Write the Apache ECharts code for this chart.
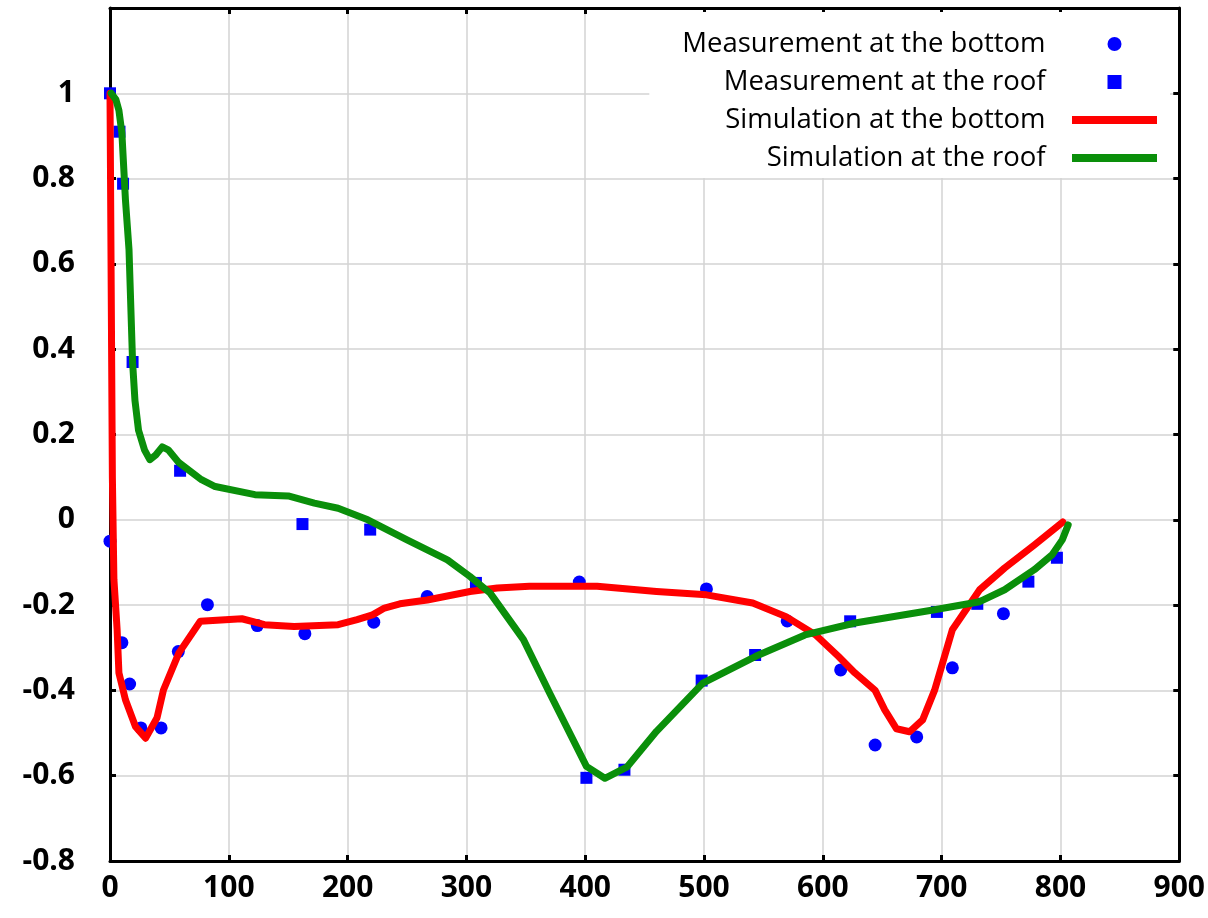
<!DOCTYPE html>
<html>
<head>
<meta charset="utf-8">
<script src="https://cdn.jsdelivr.net/npm/echarts@6/dist/echarts.min.js"></script>
<style>
html,body{margin:0;padding:0;background:#fff;}
#chart{width:1208px;height:918px;}
</style>
</head>
<body>
<div id="chart"></div>
<script>
const seriesNames = ['Measurement at the bottom','Measurement at the roof','Simulation at the bottom','Simulation at the roof'];
const xTicks = [0,100,200,300,400,500,600,700,800,900];
const yTicks = [-0.8,-0.6,-0.4,-0.2,0,0.2,0.4,0.6,0.8,1];

const measBottom = [[0,-0.05],[10,-0.288],[16.5,-0.385],[26,-0.488],[43,-0.488],[57.5,-0.309],[82,-0.199],[124,-0.248],[164,-0.267],[222,-0.24],[267,-0.18],[395,-0.146],[502,-0.162],[570,-0.237],[615,-0.352],[644,-0.528],[679,-0.509],[709,-0.347],[752,-0.22]];
const measRoof = [[0,1],[8,0.91],[11,0.788],[19,0.37],[59,0.115],[162,-0.01],[219,-0.023],[308,-0.148],[401,-0.605],[433,-0.586],[498,-0.377],[543,-0.317],[623,-0.238],[696,-0.216],[730,-0.197],[773,-0.145],[797,-0.089]];
const simBottom = [[0,1],[1,0.55],[2,0.1],[3.3,-0.14],[6,-0.258],[7.5,-0.359],[13,-0.422],[21.5,-0.485],[30,-0.512],[39.6,-0.464],[45,-0.399],[58,-0.312],[76,-0.238],[111,-0.232],[130,-0.246],[155,-0.25],[192,-0.246],[208,-0.234],[221,-0.223],[231,-0.207],[244,-0.197],[267,-0.188],[303,-0.168],[326,-0.16],[353,-0.156],[410,-0.156],[460,-0.168],[502,-0.176],[541,-0.195],[569,-0.227],[594,-0.27],[613,-0.32],[627,-0.359],[644,-0.4],[652,-0.445],[662,-0.49],[673,-0.497],[684,-0.469],[694,-0.4],[709,-0.258],[732,-0.164],[753,-0.113],[778,-0.059],[802,-0.005]];
const simRoof = [[1,1.0],[5,0.985],[7.5,0.96],[10,0.907],[13,0.75],[16,0.633],[19,0.37],[21,0.28],[24,0.21],[29,0.164],[33.5,0.141],[38.5,0.152],[44,0.171],[49,0.164],[58,0.134],[77,0.094],[88.5,0.078],[122,0.059],[150,0.056],[172,0.039],[192,0.027],[217,0],[250,-0.047],[284,-0.094],[303,-0.133],[320,-0.172],[348,-0.281],[370,-0.406],[401,-0.578],[416.5,-0.606],[435,-0.58],[460,-0.496],[499,-0.383],[543.5,-0.32],[585,-0.27],[627,-0.242],[694,-0.211],[732,-0.192],[753,-0.164],[778,-0.117],[793,-0.082],[801.5,-0.047],[806.5,-0.012]];

const chart = echarts.init(document.getElementById('chart'), null, {renderer:'canvas'});
const labelFont = {fontFamily:'Open Sans', fontWeight:'bold', fontSize:30, color:'#000'};
const frameLine = {show:true, onZero:false, lineStyle:{color:'#000', width:3}};
const tick = {show:true, inside:true, length:6, lineStyle:{color:'#000', width:3}};
const grid = {left:110, right:20, top:8, bottom:57};
const fmtY = v => Math.abs(v-1.2) < 1e-6 ? '' : String(Math.round(v*10)/10);
const squarePath = 'path://M0,0h10v10h-10z';
const barPath = 'path://M0,0h85v8h-85z';

chart.setOption({
  animation:false,
  backgroundColor:'#fff',
  grid: grid,
  legend: {
    orient:'vertical', align:'right', right:38, top:12,
    backgroundColor:'#fff',
    padding:[18,13,6,33],
    itemWidth:85, itemHeight:14, itemGap:10,
    data: [
      {name:seriesNames[0], icon:'circle'},
      {name:seriesNames[1], icon:squarePath},
      {name:seriesNames[2], icon:barPath},
      {name:seriesNames[3], icon:barPath}
    ],
    formatter: n => n + '   ',
    textStyle:{fontFamily:'Open Sans', fontSize:27.5, color:'#000'}
  },
  xAxis: [{
    type:'value', min:0, max:900, interval:100,
    axisLine: frameLine, axisTick: tick,
    axisLabel: Object.assign({margin:12}, labelFont),
    splitLine:{show:true, lineStyle:{color:'#d3d3d3', width:1.5}}
  },{
    type:'value', position:'top', min:0, max:900, interval:100,
    axisLine: frameLine, axisTick: tick,
    axisLabel:{show:false}, splitLine:{show:false}
  }],
  yAxis: [{
    type:'value', min:-0.8, max:1.2, interval:0.2,
    axisLine: frameLine, axisTick: tick,
    axisLabel: Object.assign({margin:35, formatter: fmtY}, labelFont),
    splitLine:{show:true, lineStyle:{color:'#d3d3d3', width:1.5}}
  },{
    type:'value', position:'right', min:-0.8, max:1.2, interval:0.2,
    axisLine: frameLine, axisTick: tick,
    axisLabel:{show:false}, splitLine:{show:false}
  }],
  series: [
    {name:seriesNames[0], type:'scatter', data:measBottom, symbol:'circle', symbolSize:13,
     itemStyle:{color:'#0000ff', opacity:1}, z:2},
    {name:seriesNames[1], type:'scatter', data:measRoof, symbol:'rect', symbolSize:12,
     itemStyle:{color:'#0000ff', opacity:1}, z:2},
    {name:seriesNames[2], type:'line', data:simBottom, showSymbol:false, symbol:'none',
     smooth:false,
     lineStyle:{color:'#ff0000', width:7, join:'round', cap:'round'}, itemStyle:{color:'#ff0000'}, z:3},
    {name:seriesNames[3], type:'line', data:simRoof, showSymbol:false, symbol:'none',
     smooth:false,
     lineStyle:{color:'#0a8f0a', width:7, join:'round', cap:'round'}, itemStyle:{color:'#0a8f0a'}, z:4}
  ]
});
</script>
</body>
</html>
